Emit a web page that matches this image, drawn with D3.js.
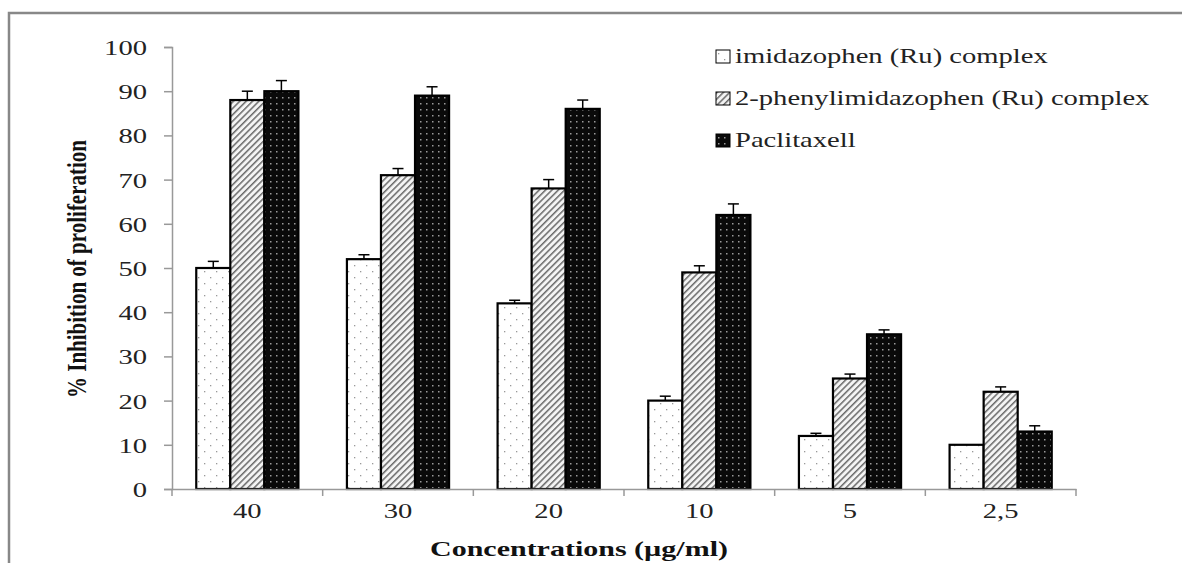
<!DOCTYPE html>
<html>
<head>
<meta charset="utf-8">
<script src="https://cdn.jsdelivr.net/npm/d3@7"></script>
<style>
  body { margin: 0; background: #fff; }
  text { font-family: "Liberation Serif", "Times New Roman", serif; }
</style>
</head>
<body>
<script>
// chart values
var concentrations = ["40", "30", "20", "10", "5", "2,5"];
var seriesNames = ["imidazophen (Ru) complex", "2-phenylimidazophen (Ru) complex", "Paclitaxell"];
var imidazophen = [50, 52, 42, 20, 12, 10];
var phenylImidazophen = [88, 71, 68, 49, 25, 22];
var paclitaxel = [90, 89, 86, 62, 35, 13];
var imidazophenErr = [1.5, 1, 0.7, 1, 0.6, 0];
var phenylImidazophenErr = [2, 1.5, 2, 1.5, 1, 1.1];
var paclitaxelErr = [2.4, 2, 2, 2.5, 1, 1.3];
var yTicks = [0, 10, 20, 30, 40, 50, 60, 70, 80, 90, 100];

var series = [
  { name: seriesNames[0], values: imidazophen, err: imidazophenErr, fill: "url(#dots)" },
  { name: seriesNames[1], values: phenylImidazophen, err: phenylImidazophenErr, fill: "url(#hatch)" },
  { name: seriesNames[2], values: paclitaxel, err: paclitaxelErr, fill: "url(#darkdots)" }
];

var W = 1182, H = 563;
var margin = {top: 47, right: 106, bottom: 74, left: 172},
    width = W - margin.left - margin.right,
    height = H - margin.top - margin.bottom;

// the figure's text is stretched sideways
var SX = 1.3;

var svg = d3.select("body").append("svg")
    .attr("width", W)
    .attr("height", H);

// patterns
var defs = svg.append("defs");

var p1 = defs.append("pattern").attr("id", "dots")
    .attr("patternUnits", "userSpaceOnUse").attr("width", 12).attr("height", 12);
p1.append("rect").attr("width", 12).attr("height", 12).attr("fill", "#fff");
p1.append("rect").attr("x", 2).attr("y", 2).attr("width", 1.3).attr("height", 1.3).attr("fill", "#999");
p1.append("rect").attr("x", 8).attr("y", 8).attr("width", 1.3).attr("height", 1.3).attr("fill", "#999");

var p2 = defs.append("pattern").attr("id", "hatch")
    .attr("patternUnits", "userSpaceOnUse").attr("width", 4.5).attr("height", 4.5)
    .attr("patternTransform", "rotate(45)");
p2.append("rect").attr("width", 4.5).attr("height", 4.5).attr("fill", "#f4f4f4");
p2.append("rect").attr("width", 1.5).attr("height", 4.5).attr("fill", "#6a6a6a");

var p3 = defs.append("pattern").attr("id", "darkdots")
    .attr("patternUnits", "userSpaceOnUse").attr("width", 6).attr("height", 6);
p3.append("rect").attr("width", 6).attr("height", 6).attr("fill", "#0a0a0a");
p3.append("rect").attr("x", 2).attr("y", 2).attr("width", 1.5).attr("height", 1.5).attr("fill", "#9a9a9a");

// outer frame
svg.append("rect")
    .attr("x", 9).attr("y", 13)
    .attr("width", W + 20).attr("height", H + 20)
    .attr("fill", "none").attr("stroke", "#888").attr("stroke-width", 2.5);

var g = svg.append("g")
    .attr("transform", "translate(" + margin.left + "," + margin.top + ")");

var x = d3.scaleBand().domain(concentrations).range([0, width]);
var bw = x.bandwidth() * 0.226;
var offset = (x.bandwidth() - 3 * bw) / 2;
var y = d3.scaleLinear().domain([0, 100]).range([height, 0]);

// y axis
var yAxis = g.append("g")
    .attr("class", "y axis")
    .call(d3.axisLeft(y).tickValues(yTicks).tickSize(8).tickFormat(""));
yAxis.select(".domain").attr("stroke", "#999").attr("stroke-width", 1.5);
yAxis.selectAll(".tick line").attr("stroke", "#999").attr("stroke-width", 1.5);
yAxis.selectAll(".tick").append("text")
    .attr("transform", "translate(-25,7.5) scale(" + SX + ",1)")
    .attr("text-anchor", "end")
    .attr("font-size", 22)
    .attr("fill", "#222")
    .style("font-family", "Liberation Serif, serif")
    .text(function (d) { return d; });

// bars
series.forEach(function (s, si) {
  var grp = g.append("g");
  grp.selectAll("rect")
     .data(s.values)
     .enter().append("rect")
     .attr("x", function (d, i) { return x(concentrations[i]) + offset + si * bw; })
     .attr("y", function (d) { return y(d); })
     .attr("width", bw)
     .attr("height", function (d) { return height - y(d); })
     .attr("fill", s.fill)
     .attr("stroke", "#000")
     .attr("stroke-width", 2.2);

  // error bars (upper only)
  grp.selectAll("g.err")
     .data(s.values)
     .enter().append("g").attr("class", "err")
     .each(function (d, i) {
       var e = s.err[i];
       if (!(e > 0)) return;
       var cx = x(concentrations[i]) + offset + si * bw + bw / 2;
       var sel = d3.select(this);
       sel.append("line")
          .attr("x1", cx).attr("x2", cx)
          .attr("y1", y(d)).attr("y2", y(d + e))
          .attr("stroke", "#000").attr("stroke-width", 1.5);
       sel.append("line")
          .attr("x1", cx - 5.5).attr("x2", cx + 5.5)
          .attr("y1", y(d + e)).attr("y2", y(d + e))
          .attr("stroke", "#000").attr("stroke-width", 1.5);
     });
});

// x axis
var xAxis = g.append("g")
    .attr("class", "x axis")
    .attr("transform", "translate(0," + height + ")")
    .call(d3.axisBottom(x).tickSize(0).tickFormat(""));
xAxis.select(".domain").attr("stroke", "#999").attr("stroke-width", 1.5);
xAxis.selectAll(".tick").append("text")
    .attr("transform", "translate(0,29) scale(" + SX + ",1)")
    .attr("text-anchor", "middle")
    .attr("font-size", 22)
    .attr("fill", "#222")
    .style("font-family", "Liberation Serif, serif")
    .text(function (d) { return d; });
// ticks at band boundaries
xAxis.selectAll("line.bound")
    .data(d3.range(concentrations.length + 1))
    .enter().append("line")
    .attr("class", "bound")
    .attr("x1", function (i) { return i * x.step(); })
    .attr("x2", function (i) { return i * x.step(); })
    .attr("y1", 0).attr("y2", 7)
    .attr("stroke", "#999").attr("stroke-width", 1.5);

// axis titles
svg.append("text")
    .attr("x", 430)
    .attr("y", 556)
    .attr("font-size", 21)
    .attr("font-weight", "bold")
    .attr("textLength", 298)
    .attr("lengthAdjust", "spacingAndGlyphs")
    .attr("fill", "#111")
    .text("Concentrations (µg/ml)");

svg.append("text")
    .attr("transform", "translate(86,269) scale(" + SX + ",1) rotate(-90)")
    .attr("text-anchor", "middle")
    .attr("font-size", 21)
    .attr("font-weight", "bold")
    .attr("textLength", 258)
    .attr("lengthAdjust", "spacingAndGlyphs")
    .attr("fill", "#111")
    .text("% Inhibition of proliferation");

// legend
var legend = svg.append("g").attr("transform", "translate(716,63)");
var items = legend.selectAll("g")
    .data(series)
    .enter().append("g")
    .attr("transform", function (d, i) { return "translate(0," + (i * 42) + ")"; });
items.append("rect")
    .attr("y", -13)
    .attr("width", 14).attr("height", 13)
    .attr("fill", function (d) { return d.fill; })
    .attr("stroke", "#000").attr("stroke-width", 1);
items.append("text")
    .attr("transform", "translate(19,0) scale(" + SX + ",1)")
    .attr("font-size", 22)
    .attr("fill", "#222")
    .text(function (d) { return d.name; });
</script>
</body>
</html>
